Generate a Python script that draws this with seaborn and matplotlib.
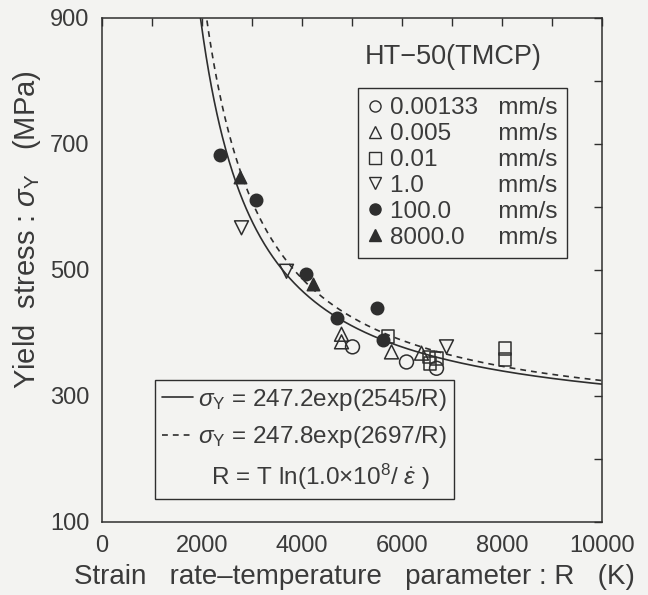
import numpy as np
import pandas as pd
import matplotlib
matplotlib.use("Agg")
import matplotlib.pyplot as plt
import seaborn as sns
from matplotlib.lines import Line2D
from matplotlib.ticker import MultipleLocator

sns.set_theme(style="white")
plt.rcParams['font.family'] = ['Liberation Sans', 'DejaVu Sans']
plt.rcParams['mathtext.fontset'] = 'custom'
plt.rcParams['mathtext.rm'] = 'Liberation Sans'
plt.rcParams['mathtext.it'] = 'Liberation Sans:italic'
plt.rcParams['mathtext.bf'] = 'Liberation Sans:bold'

INK = '#2e2e2e'
TXT = '#3a3a3a'
BG = '#f3f3f1'

# ---------------- data ----------------
speeds = ["0.00133", "0.005", "0.01", "1.0", "100.0", "8000.0"]
r_00133 = [5010, 6090, 6690]
s_00133 = [378, 354, 344]
r_0005 = [4790, 4790, 5790, 6390]
s_0005 = [398, 386, 370, 368]
r_001 = [5720, 6540, 6560, 6690, 8060, 8060]
s_001 = [394, 362, 352, 360, 375, 358]
r_1 = [2790, 3690, 6890]
s_1 = [567, 498, 378]
r_100 = [2360, 3080, 4080, 4690, 5490, 5620]
s_100 = [683, 611, 494, 424, 440, 389]
r_8000 = [2760, 4210]
s_8000 = [648, 478]

fit_A = [247.2, 247.8]
fit_B = [2545, 2697]

x_ticks = [0, 2000, 4000, 6000, 8000, 10000]
y_ticks = [100, 300, 500, 700, 900]

series = [
    (r_00133, s_00133, 'o', False),
    (r_0005, s_0005, '^', False),
    (r_001, s_001, 's', False),
    (r_1, s_1, 'v', False),
    (r_100, s_100, 'o', True),
    (r_8000, s_8000, '^', True),
]

fig = plt.figure(figsize=(6.48, 5.95), dpi=100, facecolor=BG)
ax = fig.add_axes([102/648, (595-522)/595, 500/648, 504/595])
ax.set_facecolor(BG)

# fitted curves
R = np.linspace(1850, 10000, 600)
styles = ['-', (0, (3.5, 3))]
for A, B, ls in zip(fit_A, fit_B, styles):
    sns.lineplot(x=R, y=A*np.exp(B/R), ax=ax, color=INK, lw=1.2,
                 linestyle=ls, sort=False)

# data points
sizes = {'o': 100, '^': 100, 's': 85, 'v': 100}
handles = []
for (rx, sy, m, filled), sp in zip(series, speeds):
    fc = INK if filled else 'none'
    sns.scatterplot(x=rx, y=sy, ax=ax, marker=m, s=sizes[m] * (0.8 if filled else 1.0),
                    facecolor=fc, edgecolor=INK, linewidth=1.1, zorder=3)
    pad = 3 + 2 * (len(speeds[0]) - len(sp))
    handles.append((Line2D([], [], marker=m, ls='none', markersize=8,
                           markerfacecolor=fc, markeredgecolor=INK, markeredgewidth=1.0),
                    sp + ' ' * pad + 'mm/s'))

ax.set_xlim(0, 10000)
ax.set_ylim(100, 900)
ax.set_xticks(x_ticks)
ax.set_yticks(y_ticks)
ax.xaxis.set_minor_locator(MultipleLocator(1000))
ax.yaxis.set_minor_locator(MultipleLocator(100))
ax.tick_params(which='both', direction='in', top=True, right=True,
               length=6, width=1.0, color=INK, labelsize=17, labelcolor=TXT)
ax.tick_params(axis='x', pad=9)
ax.tick_params(axis='y', pad=9)
for sp_ in ax.spines.values():
    sp_.set_color(INK)
    sp_.set_linewidth(1.1)

ax.set_xlabel("Strain   rate\u2013temperature   parameter : R   (K)", fontsize=20, color=TXT)
ax.set_ylabel(r"Yield  stress : $\sigma_{\rm Y}$   (MPa)", fontsize=21, color=TXT)
ax.xaxis.set_label_coords(0.505, -0.083)
ax.yaxis.set_label_coords(-0.118, 0.58)

ax.text((365-102)/500, (522-57)/504, "HT\u221250(TMCP)", transform=ax.transAxes,
        fontsize=19.5, color=TXT, ha='left', va='center')

leg1 = ax.legend([h for h, _ in handles], [l for _, l in handles],
                 loc='upper left', bbox_to_anchor=((358-102)/500, (522-88)/504),
                 fontsize=17.5, frameon=True, fancybox=False, edgecolor=INK,
                 facecolor=BG, framealpha=1, labelspacing=0.16, handlelength=0.6,
                 handletextpad=0.35, borderpad=0.38, borderaxespad=0, labelcolor=TXT)
leg1.get_frame().set_linewidth(1.0)
ax.add_artist(leg1)

eq_handles = [Line2D([], [], color=INK, lw=1.2, ls='-'),
              Line2D([], [], color=INK, lw=1.2, ls=(0, (3.5, 3))),
              Line2D([], [], alpha=0)]
eq_labels = [r"$\sigma_{\rm Y}$ = 247.2exp(2545/R)",
             r"$\sigma_{\rm Y}$ = 247.8exp(2697/R)",
             r"  R = T ln(1.0$\times$10$^8$/ $\dot{\varepsilon}$ )"]
leg2 = ax.legend(eq_handles, eq_labels, loc='lower left',
                 bbox_to_anchor=((155-102)/500, (522-499)/504),
                 fontsize=17.5, frameon=True, fancybox=False, edgecolor=INK,
                 facecolor=BG, framealpha=1, labelspacing=0.48, handlelength=1.3,
                 handletextpad=0.2, borderpad=0.28, borderaxespad=0, labelcolor=TXT)
leg2.get_frame().set_linewidth(1.0)

fig.savefig("out.png", dpi=100, facecolor=BG)
